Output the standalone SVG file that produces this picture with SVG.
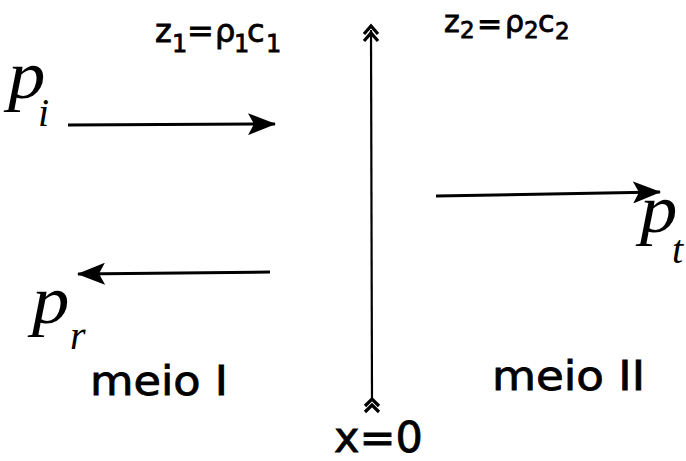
<svg xmlns="http://www.w3.org/2000/svg" width="686" height="461" viewBox="0 0 686 461">
<defs>
<marker id="ah" viewBox="0 0 28 22" refX="27" refY="11" markerWidth="28" markerHeight="22" markerUnits="userSpaceOnUse" orient="auto">
<path d="M0,0 L28,11 L0,22 L6,11 Z" fill="#000"/>
</marker>
<style>
.ln{stroke:#000;stroke-width:3;fill:none}
.sans{font-family:"DejaVu Sans","Liberation Sans",sans-serif;fill:#000;stroke:#000;stroke-width:0.8}
.math{font-family:"Liberation Serif","DejaVu Serif",serif;font-style:italic;fill:#000}
</style>
</defs>
<rect width="686" height="461" fill="#fff"/>
<g id="connectors">
<line class="ln" x1="68" y1="125" x2="275" y2="124" marker-end="url(#ah)"/>
<line class="ln" x1="436" y1="196" x2="660" y2="192" marker-end="url(#ah)"/>
<line class="ln" x1="270" y1="272" x2="78" y2="274" marker-end="url(#ah)"/>
</g>
<g id="interface">
<line class="ln" x1="371" y1="30" x2="372" y2="401" style="stroke-width:2.2"/>
<path d="M364,34 L371,26 L378,34 M364,41 L371,33 L378,41" class="ln" style="stroke-width:3.2"/>
<path d="M365,406 L372,399 L379,406 M365,412 L372,405 L379,412" class="ln" style="stroke-width:3.2"/>
</g>
<g id="z1" class="sans">
<text x="155" y="42" font-size="32">z</text>
<text x="172" y="52" font-size="24">1</text>
<text x="187" y="42" font-size="32">=</text>
<text x="215" y="42" font-size="32">ρ</text>
<text x="234" y="52" font-size="24">1</text>
<text x="247" y="42" font-size="32">c</text>
<text x="266" y="52" font-size="24">1</text>
</g>
<g id="z2" class="sans">
<text x="444" y="32" font-size="30">z</text>
<text x="460" y="38" font-size="23">2</text>
<text x="477" y="34" font-size="30">=</text>
<text x="505" y="32" font-size="30">ρ</text>
<text x="524" y="38" font-size="23">2</text>
<text x="538" y="32" font-size="30">c</text>
<text x="555" y="39" font-size="23">2</text>
</g>
<g id="pi"><text class="math" x="8" y="98" font-size="68" transform="translate(8 0) scale(1.1 1) translate(-8 0)">p</text><text class="math" x="38" y="126" font-size="40">i</text></g>
<g id="pt"><text class="math" x="640" y="232" font-size="68" transform="translate(640 0) scale(1.1 1) translate(-640 0)">p</text><text class="math" x="672" y="263" font-size="40">t</text></g>
<g id="pr"><text class="math" x="32" y="323" font-size="68" transform="translate(32 0) scale(1.1 1) translate(-32 0)">p</text><text class="math" x="70" y="349" font-size="40">r</text></g>
<g id="meio1"><text class="sans" x="90" y="395" font-size="40" textLength="138" lengthAdjust="spacingAndGlyphs">meio I</text></g>
<g id="meio2"><text class="sans" x="492" y="390" font-size="40" textLength="153" lengthAdjust="spacingAndGlyphs">meio II</text></g>
<g id="x0"><text class="sans" x="334" y="452" font-size="43">x=0</text></g>
</svg>
